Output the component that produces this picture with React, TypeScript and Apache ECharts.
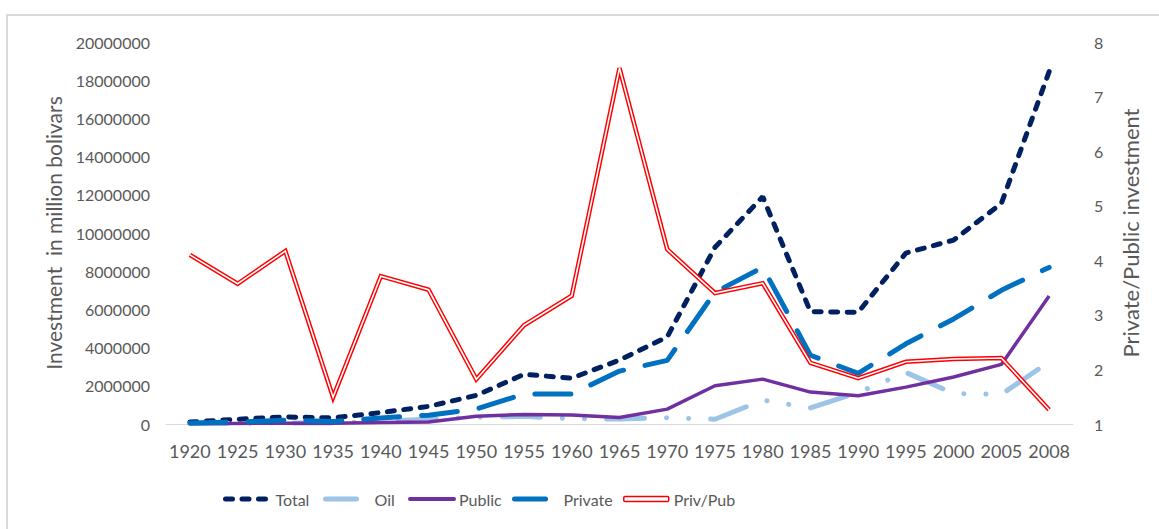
import React, { useEffect, useRef } from "react";
import * as echarts from "echarts";

const years = ["1920","1925","1930","1935","1940","1945","1950","1955","1960","1965","1970","1975","1980","1985","1990","1995","2000","2005","2008"];
const total = [100000,250000,370000,320000,600000,920000,1500000,2600000,2400000,3350000,4560000,9250000,11900000,5880000,5850000,8950000,9630000,11550000,18450000];
const oil = [20000,40000,60000,50000,150000,250000,350000,400000,280000,260000,330000,250000,1250000,840000,1650000,2700000,1600000,1550000,3250000];
const publicInv = [10000,30000,40000,40000,80000,100000,400000,500000,470000,340000,780000,2000000,2350000,1670000,1480000,1930000,2460000,3120000,6700000];
const privateInv = [50000,100000,200000,130000,320000,460000,780000,1570000,1570000,2770000,3330000,6900000,8200000,3600000,2650000,4200000,5500000,7000000,8200000];
const privPub = [4.10,3.57,4.17,1.49,3.71,3.46,1.82,2.81,3.35,7.52,4.20,3.40,3.58,2.12,1.84,2.14,2.19,2.21,1.26];
const leftTicks = { min: 0, max: 20000000, interval: 2000000 };
const rightTicks = { min: 1, max: 8, interval: 1 };

const FONT = "Lato";
const GRAY = "#595959";

function legendItem(name: string, left: number, width: number, lineStyle: any, textPad: number, extra: any = {}) {
  return {
    left,
    top: 491,
    padding: 0,
    itemWidth: width,
    itemHeight: 10,
    data: [name],
    textStyle: {
      fontFamily: FONT,
      fontSize: 16,
      color: GRAY,
      padding: [0, 0, 0, textPad],
    },
    itemStyle: { color: "rgba(0,0,0,0)", borderWidth: 0, opacity: 0 },
    lineStyle,
    ...extra,
  };
}

export default function App() {
  const ref = useRef<HTMLDivElement>(null);
  useEffect(() => {
    if (!ref.current) return;
    const chart = echarts.init(ref.current, undefined, { renderer: "svg" });
    chart.setOption({
      animation: false,
      backgroundColor: "#fff",
      graphic: [
        {
          type: "rect",
          shape: { x: 7, y: 15, width: 1170, height: 540 },
          style: { fill: "none", stroke: "#D9D9D9", lineWidth: 2 },
          silent: true,
        },
      ],
      legend: [
        legendItem("Total", 223, 45, { width: 5, type: [7, 9.5], cap: "round", color: "#002060" }, 0),
        legendItem("Oil", 323, 31, { width: 5, cap: "round", color: "#9DC3E6" }, 13),
        legendItem("Public", 408, 44, { width: 4, cap: "round", color: "#7030A0" }, 0),
        legendItem("Private", 512, 31, { width: 5, cap: "round", color: "#0070C0" }, 13),
        legendItem("Priv/Pub", 623, 45, { width: 0 }, 0, {
          icon: "roundRect",
          itemHeight: 5,
          itemStyle: { color: "#fff", borderColor: "#FF0000", borderWidth: 1.5 },
        }),
      ],
      grid: { left: 166, right: 86, top: 42, bottom: 105 },
      xAxis: {
        type: "category",
        data: years,
        boundaryGap: true,
        axisTick: { show: false },
        axisLine: { lineStyle: { color: "#D9D9D9", width: 1 } },
        axisLabel: { fontFamily: FONT, fontSize: 18, color: GRAY, margin: 18, interval: 0 },
      },
      yAxis: [
        {
          type: "value",
          ...leftTicks,
          name: "Investment  in million bolivars",
          nameLocation: "middle",
          nameGap: 102,
          nameTextStyle: { fontFamily: FONT, fontSize: 21, color: GRAY },
          axisLine: { show: false },
          axisTick: { show: false },
          splitLine: { show: false },
          axisLabel: { fontFamily: FONT, fontSize: 16, color: GRAY, margin: 16, formatter: (v: number) => String(v) },
        },
        {
          type: "value",
          ...rightTicks,
          name: "Private/Public investment",
          nameLocation: "middle",
          nameGap: 46,
          nameTextStyle: { fontFamily: FONT, fontSize: 22, color: GRAY },
          axisLine: { show: false },
          axisTick: { show: false },
          splitLine: { show: false },
          axisLabel: { fontFamily: FONT, fontSize: 16, color: GRAY, margin: 21 },
        },
      ],
      series: [
        {
          name: "Total",
          type: "line",
          data: total,
          symbol: "none",
          color: "#002060",
          lineStyle: { width: 5, type: [7, 9.5], cap: "round", color: "#002060" },
          z: 2,
        },
        {
          name: "Oil",
          type: "line",
          data: oil,
          symbol: "none",
          color: "#9DC3E6",
          lineStyle: { width: 5, type: [38, 22, 0.1, 22, 0.1, 22], cap: "round", color: "#9DC3E6" },
          z: 2,
        },
        {
          name: "Public",
          type: "line",
          data: publicInv,
          symbol: "none",
          color: "#7030A0",
          lineStyle: { width: 3.5, color: "#7030A0" },
          z: 2,
        },
        {
          name: "Private",
          type: "line",
          data: privateInv,
          symbol: "none",
          color: "#0070C0",
          lineStyle: { width: 5, type: [36, 22], cap: "round", color: "#0070C0" },
          z: 2,
        },
        {
          name: "Priv/Pub",
          type: "line",
          yAxisIndex: 1,
          data: privPub,
          symbol: "none",
          color: "#FF0000",
          lineStyle: { width: 4.5, color: "#FF0000", join: "miter" },
          z: 3,
        },
        {
          name: "PrivPubInner",
          type: "line",
          yAxisIndex: 1,
          data: privPub,
          symbol: "none",
          silent: true,
          color: "#fff",
          lineStyle: { width: 1.6, color: "#ffffff", join: "miter" },
          z: 4,
        },
      ],
    });
    return () => chart.dispose();
  }, []);
  return (
    <div
      ref={ref}
      style={{ position: "fixed", left: 0, top: 0, width: 1159, height: 529 }}
    />
  );
}
